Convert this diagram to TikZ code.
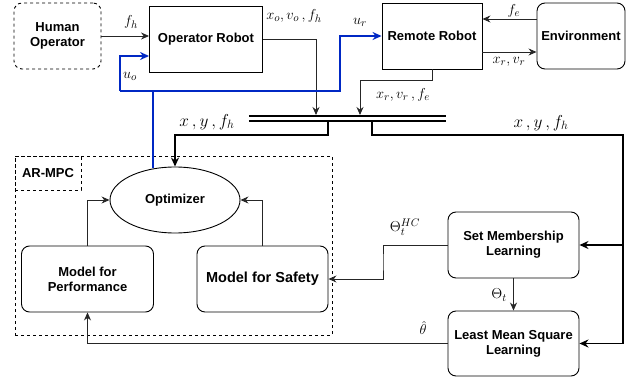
\documentclass[tikz,border=0pt]{standalone}
\usepackage{fontspec}
\setmainfont{Liberation Sans}
\usetikzlibrary{arrows.meta,shapes.geometric}
\definecolor{ublue}{RGB}{0,40,196}
\tikzset{
  blk/.style={draw=black,line width=0.9pt,minimum width=#1,inner sep=1pt,align=center,font=\fontsize{13}{15}\selectfont\bfseries},
  rblk/.style={blk=#1,rounded corners=8pt},
  arr/.style={draw=black!85,line width=0.9pt,-{Stealth[length=8pt,width=7pt]}},
  tarr/.style={draw=black,line width=1.8pt,-{Stealth[length=9pt,width=8pt]}},
  barr/.style={draw=ublue,line width=1.8pt,-{Stealth[length=9pt,width=8pt]}},
  bline/.style={draw=ublue,line width=1.8pt},
  lab/.style={font=\fontsize{15}{17}\selectfont,inner sep=0pt},
  biglab/.style={font=\fontsize{17}{19}\selectfont,inner sep=0pt},
}
\begin{document}
\begin{tikzpicture}[x=1pt,y=-1pt]
\useasboundingbox (0,0) rectangle (634,382);
% blocks
\node[rblk=87pt,minimum height=66pt,dashed] (HO) at (57.5,36) {Human\\Operator};
\node[blk=113pt,minimum height=66pt] (OR) at (206,39) {Operator Robot};
\node[blk=100pt,minimum height=66pt] (RR) at (432,36) {Remote Robot};
\node[rblk=88pt,minimum height=66pt] (EN) at (581,36) {Environment};
\node[draw=black,line width=0.9pt,ellipse,minimum width=130pt,minimum height=66pt,inner sep=0pt,font=\fontsize{13}{15}\selectfont\bfseries] (OPT) at (175,200) {Optimizer};
\node[rblk=132pt,minimum height=66pt] (PERF) at (87.5,279) {Model for\\Performance};
\node[rblk=131pt,minimum height=66pt,font=\fontsize{14.5}{17}\selectfont\bfseries] (SAF) at (262.5,279) {Model for Safety};
\node[rblk=131pt,minimum height=66pt] (SM) at (513.5,245) {Set Membership\\Learning};
\node[rblk=131pt,minimum height=65pt] (LMS) at (513.5,343.5) {Least Mean Square\\Learning};
% AR-MPC frame
\node[draw=black,dashed,line width=0.8pt,minimum width=317pt,minimum height=179pt,inner sep=0pt] (MPC) at (173.5,245.5) {};
\node[draw=black,dashed,line width=0.8pt,minimum width=66pt,minimum height=34pt,inner sep=0pt,font=\fontsize{13}{15}\selectfont\bfseries] (MPCL) at (48,173) {AR-MPC};
% bus
\node[minimum width=197pt,minimum height=5pt,inner sep=0pt] (BUS) at (347.5,118.5) {};
\draw[line width=1.8pt] (BUS.north west) -- (BUS.north east);
\draw[line width=1.8pt] (BUS.south west) -- (BUS.south east);
\coordinate (bin1) at (316,115);
\coordinate (bin2) at (360,115);
\coordinate (bout1) at (328,122);
\coordinate (bout2) at (372,122);
% top connectors
\draw[arr] (HO.east) -- (HO.east -| OR.west);
\node[lab] (lfh) at (131,22) {$f_h$};
\draw[arr] (OR.east) -| (bin1);
\node[lab] (lxo) at (294,16) {$x_o,v_o\,,f_h$};
\draw[arr] (RR.south) -- ++(0,11) -| (bin2);
\node[lab] (lxr) at (403,95) {$x_r,v_r\,,f_e$};
\draw[arr] ([yshift=17pt]EN.west) -- ([yshift=17pt]EN.west -| RR.east);
\node[lab] (lfe) at (514,11) {$f_e$};
\draw[arr] ([yshift=-16pt]RR.east) -- ([yshift=-16pt]RR.east -| EN.west);
\node[lab] (lxv) at (509,62) {$x_r,v_r$};
% blue connectors
\coordinate (bj) at (153,91);
\coordinate (bl) at (120,91);
\coordinate (br) at (340,91);
\coordinate (ot) at (153,168);
\draw[bline] (ot) -- (bj) -- (bl);
\draw[barr] (bl) |- ([yshift=-17pt]OR.west);
\draw[barr] (bj) -- (br) |- (RR.west);
\node[lab] (luo) at (130,76) {$u_o$};
\node[lab] (lur) at (360,22) {$u_r$};
% thick feedback
\draw[tarr] (bout1) -- ++(0,13) -| (OPT.north);
\node[biglab] (lxy1) at (207,122) {$x\,,y\,,f_h$};
\coordinate (rc) at (623,245);
\draw[tarr] (bout2) -- ++(0,13) -| (rc) |- (LMS.east);
\draw[tarr] (rc) -- (SM.east);
\node[biglab] (lxy2) at (541,123) {$x\,,y\,,f_h$};
% inner connectors
\draw[arr] (PERF.north) |- (OPT.west);
\draw[arr] (SAF.north) |- (OPT.east);
\coordinate (sj) at (383,262);
\draw[arr] (SM.west) -| (sj) |- (SAF.east);
\node[lab] (lth) at (405,227) {$\Theta_t^{HC}$};
\draw[arr] (SM.south) -- (LMS.north);
\node[lab] (lt) at (499,295) {$\Theta_t$};
\draw[arr] (LMS.west) -| (PERF.south);
\node[lab] (lhat) at (423,328) {$\hat\theta$};
\end{tikzpicture}
\end{document}
